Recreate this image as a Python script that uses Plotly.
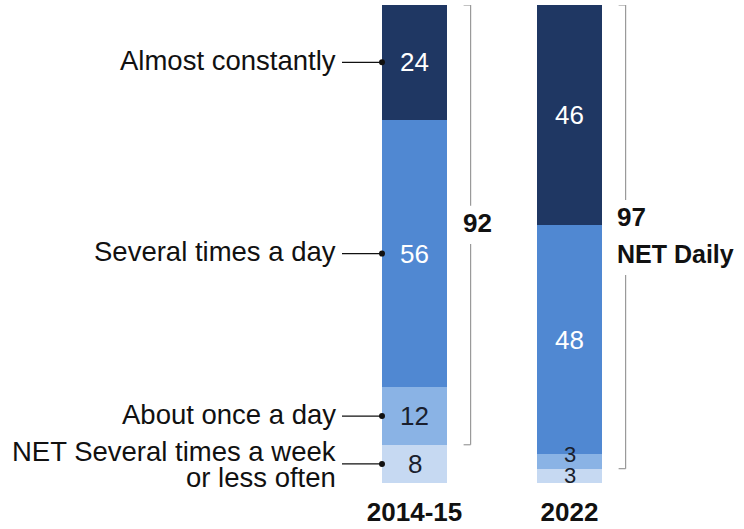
import plotly.graph_objects as go

# ---- data ----
periods = ["2014-15", "2022"]
categories = ["NET Several times a week or less often", "About once a day",
              "Several times a day", "Almost constantly"]  # bottom -> top
less_often = [8, 3]
once_a_day = [12, 3]
several_a_day = [56, 48]
almost_constantly = [24, 46]
net_daily = [92, 97]
left_labels = ["NET Several times a week", "About once a day",
               "Several times a day", "Almost constantly"]

series = [less_often, once_a_day, several_a_day, almost_constantly]
colors = ["#c6d9f2", "#8ab3e5", "#5088d2", "#1f3763"]
text_colors = ["#1a1f2e", "#1a1f2e", "#ffffff", "#ffffff"]

FONT = "Liberation Sans, Arial, sans-serif"
W = 65 / 155.0          # bar width in axis units
xs = [0, 1]

fig = go.Figure()
for name, vals, col in zip(categories, series, colors):
    fig.add_trace(go.Bar(x=xs, y=vals, name=name, width=W,
                         marker=dict(color=col, line=dict(width=0)),
                         hoverinfo="skip"))

annotations = []
shapes = []

# value labels inside segments
for i in range(2):
    base = 0
    for k, vals in enumerate(series):
        v = vals[i]
        mid = base + v / 2
        ys = 0
        if i == 1 and v < 5:
            ys = 7 if k == 1 else 0
        annotations.append(dict(x=xs[i], y=mid, text=str(v), showarrow=False,
                                xanchor="center", yanchor="middle", yshift=ys,
                                font=dict(family=FONT, size=26 if v >= 5 else 22,
                                          color=text_colors[k])))
        base += v

# left labels with connectors (for first bar)
base = 0
left_edge = xs[0] - W / 2
LS = 27.5
for k, vals in enumerate(series):
    v = vals[0]
    mid = base + v / 2
    base += v
    shapes.append(dict(type="line", xref="x", yref="y",
                       x0=left_edge - 40 / 155.0, x1=left_edge, y0=mid, y1=mid,
                       line=dict(color="#111111", width=1.2)))
    shapes.append(dict(type="circle", xref="x", yref="y",
                       xsizemode="pixel", ysizemode="pixel",
                       xanchor=left_edge, yanchor=mid,
                       x0=-3, x1=3, y0=-3, y1=3,
                       fillcolor="#111111", line=dict(width=0)))
    if k == 0:
        annotations.append(dict(x=left_edge, y=mid, text="NET Several times a week",
                                showarrow=False, xanchor="right", yanchor="middle",
                                xshift=-44, yshift=12,
                                font=dict(family=FONT, size=LS, color="#111111")))
        annotations.append(dict(x=left_edge, y=mid, text="or less often",
                                showarrow=False, xanchor="right", yanchor="middle",
                                xshift=-44, yshift=-14,
                                font=dict(family=FONT, size=LS, color="#111111")))
    else:
        annotations.append(dict(x=left_edge, y=mid, text=left_labels[k],
                                showarrow=False, xanchor="right", yanchor="middle",
                                xshift=-44, yshift=2,
                                font=dict(family=FONT, size=LS, color="#111111")))

# brackets for NET daily
for i in range(2):
    bx = xs[i] + 0.362
    top = 100
    bottom = 100 - net_daily[i]
    mid = (top + bottom) / 2
    gap_hi = 4 if i == 0 else 7.7
    gap_lo = 4 if i == 0 else 8
    tick = 7 / 155.0
    bc = dict(color="#9a9a9a", width=1.2)
    shapes.append(dict(type="line", xref="x", yref="y", x0=bx - tick, x1=bx,
                       y0=top, y1=top, line=bc))
    shapes.append(dict(type="line", xref="x", yref="y", x0=bx, x1=bx,
                       y0=top, y1=mid + gap_hi, line=bc))
    shapes.append(dict(type="line", xref="x", yref="y", x0=bx, x1=bx,
                       y0=mid - gap_lo, y1=bottom, line=bc))
    shapes.append(dict(type="line", xref="x", yref="y", x0=bx - tick, x1=bx,
                       y0=bottom, y1=bottom, line=bc))
    if i == 0:
        annotations.append(dict(x=bx, y=mid, text="<b>%d</b>" % net_daily[i],
                                showarrow=False, xanchor="left", yanchor="middle",
                                xshift=-10, yshift=2,
                                font=dict(family=FONT, size=26, color="#111111")))
    else:
        annotations.append(dict(x=bx, y=mid, text="<b>%d</b>" % net_daily[i],
                                showarrow=False, xanchor="left", yanchor="middle",
                                xshift=-11, yshift=20,
                                font=dict(family=FONT, size=26, color="#111111")))
        annotations.append(dict(x=bx, y=mid, text="<b>NET Daily</b>",
                                showarrow=False, xanchor="left", yanchor="middle",
                                xshift=-11, yshift=-17,
                                font=dict(family=FONT, size=25, color="#111111")))

fig.update_layout(
    barmode="stack",
    width=744, height=529,
    margin=dict(l=0, r=0, t=5, b=46, pad=0),
    paper_bgcolor="white", plot_bgcolor="white",
    showlegend=False,
    bargap=0,
    annotations=annotations,
    shapes=shapes,
    xaxis=dict(range=[-414.5 / 155.0, (744 - 414.5) / 155.0],
               tickvals=xs, ticktext=["<b>%s</b>" % p for p in periods],
               tickfont=dict(family=FONT, size=26, color="#111111"),
               showgrid=False, zeroline=False, showline=False, ticks="",
               ticklabelstandoff=11, automargin=False, fixedrange=True),
    yaxis=dict(range=[0, 100], visible=False, fixedrange=True,
               automargin=False),
)

fig.write_html("out.html", config={"displayModeBar": False})
